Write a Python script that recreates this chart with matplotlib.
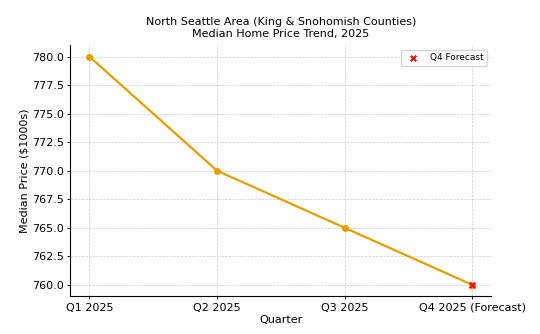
import matplotlib.pyplot as plt

quarters = ['Q1 2025', 'Q2 2025', 'Q3 2025', 'Q4 2025 (Forecast)']
prices = [780.0, 770.0, 765.0, 760.0]
forecastQuarter = ['Q4 2025 (Forecast)']
forecastPrice = [760.0]

fig, ax = plt.subplots(figsize=(5.4, 3.34), dpi=100)
x = list(range(len(quarters)))
ax.plot(x, prices, color='#e69f00', marker='o', markersize=4, linewidth=1.6)
ax.scatter([x[-1]], forecastPrice, color='red', marker='x', s=16, zorder=5, label='Q4 Forecast')
ax.set_xticks(x)
ax.set_xticklabels(quarters, fontsize=8)
ax.tick_params(axis='both', length=2.5, pad=2, width=0.6)
ax.tick_params(axis='y', labelsize=8)
ax.set_yticks([760.0, 762.5, 765.0, 767.5, 770.0, 772.5, 775.0, 777.5, 780.0])
ax.yaxis.set_major_formatter(plt.FormatStrFormatter('%.1f'))
ax.set_xlabel('Quarter', fontsize=8, labelpad=2)
ax.set_ylabel('Median Price ($1000s)', fontsize=8, labelpad=2)
ax.set_title('North Seattle Area (King & Snohomish Counties)\nMedian Home Price Trend, 2025', fontsize=8)
ax.grid(True, linestyle='--', linewidth=0.5, color='#cccccc')
ax.spines['top'].set_visible(False)
ax.spines['right'].set_visible(False)
ax.legend(loc='upper right', fontsize=6.5)
fig.subplots_adjust(left=0.13, right=0.91, top=0.865, bottom=0.113)
plt.savefig('out.png')
